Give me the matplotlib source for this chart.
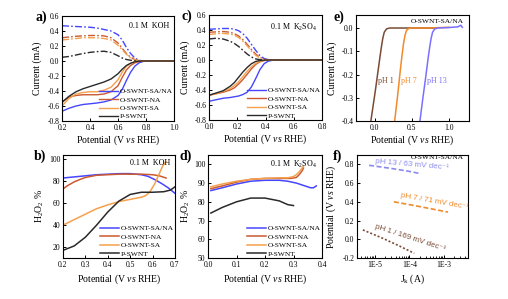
import matplotlib
matplotlib.use("Agg")
import matplotlib.pyplot as plt
import numpy as np
from matplotlib.ticker import FixedLocator, LogLocator, NullFormatter

plt.rcParams['font.family'] = ['Liberation Serif', 'DejaVu Serif']
plt.rcParams['mathtext.fontset'] = 'custom'
plt.rcParams['mathtext.rm'] = 'Liberation Serif'
plt.rcParams['mathtext.it'] = 'Liberation Serif:italic'
plt.rcParams['mathtext.bf'] = 'Liberation Serif:bold'
plt.rcParams['axes.linewidth'] = 0.8
plt.rcParams['xtick.direction'] = 'in'
plt.rcParams['ytick.direction'] = 'in'
plt.rcParams['xtick.major.size'] = 2.5
plt.rcParams['ytick.major.size'] = 2.5
plt.rcParams['xtick.minor.size'] = 1.5
plt.rcParams['xtick.major.width'] = 0.7
plt.rcParams['ytick.major.width'] = 0.7
plt.rcParams['xtick.labelsize'] = 5.5
plt.rcParams['ytick.labelsize'] = 5.5
plt.rcParams['xtick.major.pad'] = 2.2
plt.rcParams['ytick.major.pad'] = 1.8

# ---------------- data ----------------
samples = ["O-SWNT-SA/NA", "O-SWNT-NA", "O-SWNT-SA", "P-SWNT"]
colors = ["#4646ff", "#cc5a30", "#f5a04c", "#2a2a2a"]

# panel a: RRDE in 0.1 M KOH
x_a = [0.20, 0.25, 0.30, 0.35, 0.40, 0.45, 0.50, 0.55, 0.60, 0.63, 0.66, 0.69, 0.72, 0.75, 0.78, 0.82, 0.90, 1.00]
disk_a = [
    [-0.67, -0.63, -0.60, -0.58, -0.57, -0.56, -0.545, -0.52, -0.46, -0.38, -0.26, -0.15, -0.07, -0.025, -0.005, 0, 0, 0],
    [-0.55, -0.48, -0.46, -0.45, -0.45, -0.45, -0.44, -0.41, -0.33, -0.22, -0.12, -0.06, -0.025, -0.008, 0, 0, 0, 0],
    [-0.60, -0.50, -0.44, -0.42, -0.41, -0.41, -0.39, -0.35, -0.25, -0.15, -0.07, -0.03, -0.01, -0.003, 0, 0, 0, 0],
    [-0.55, -0.47, -0.41, -0.37, -0.34, -0.31, -0.28, -0.24, -0.17, -0.11, -0.06, -0.03, -0.01, -0.003, 0, 0, 0, 0],
]
ring_a = [
    [0.47, 0.465, 0.46, 0.455, 0.45, 0.44, 0.42, 0.40, 0.35, 0.28, 0.18, 0.10, 0.04, 0.01, 0, 0, 0, 0],
    [0.31, 0.32, 0.33, 0.335, 0.34, 0.34, 0.335, 0.31, 0.24, 0.17, 0.10, 0.05, 0.02, 0.005, 0, 0, 0, 0],
    [0.28, 0.29, 0.30, 0.31, 0.31, 0.31, 0.30, 0.28, 0.21, 0.15, 0.09, 0.04, 0.015, 0.004, 0, 0, 0, 0],
    [0.05, 0.06, 0.08, 0.10, 0.115, 0.125, 0.13, 0.115, 0.07, 0.04, 0.02, 0.01, 0.003, 0, 0, 0, 0, 0],
]

# panel c: RRDE in 0.1 M K2SO4
x_c = [0.00, 0.05, 0.10, 0.15, 0.18, 0.21, 0.24, 0.27, 0.30, 0.33, 0.36, 0.39, 0.42, 0.45, 0.50, 0.60, 0.70, 0.80]
disk_c = [
    [-0.55, -0.53, -0.51, -0.50, -0.49, -0.48, -0.46, -0.43, -0.36, -0.25, -0.13, -0.05, -0.015, -0.003, 0, 0, 0, 0],
    [-0.47, -0.45, -0.43, -0.40, -0.37, -0.32, -0.26, -0.19, -0.12, -0.06, -0.025, -0.008, -0.002, 0, 0, 0, 0, 0],
    [-0.47, -0.45, -0.42, -0.38, -0.34, -0.29, -0.22, -0.15, -0.09, -0.045, -0.018, -0.005, 0, 0, 0, 0, 0, 0],
    [-0.47, -0.44, -0.41, -0.35, -0.30, -0.23, -0.16, -0.10, -0.05, -0.02, -0.007, -0.002, 0, 0, 0, 0, 0, 0],
]
ring_c = [
    [0.41, 0.415, 0.42, 0.42, 0.41, 0.39, 0.35, 0.29, 0.21, 0.13, 0.06, 0.02, 0.005, 0, 0, 0, 0, 0],
    [0.37, 0.375, 0.38, 0.37, 0.35, 0.32, 0.27, 0.21, 0.14, 0.08, 0.035, 0.01, 0.002, 0, 0, 0, 0, 0],
    [0.34, 0.35, 0.355, 0.345, 0.33, 0.30, 0.25, 0.19, 0.12, 0.065, 0.025, 0.007, 0, 0, 0, 0, 0, 0],
    [0.28, 0.29, 0.28, 0.25, 0.22, 0.18, 0.13, 0.08, 0.04, 0.015, 0.004, 0, 0, 0, 0, 0, 0, 0],
]

# panel b: H2O2 selectivity in KOH
x_b = [
    [0.20, 0.25, 0.30, 0.35, 0.40, 0.45, 0.50, 0.55, 0.58, 0.61, 0.64, 0.67, 0.70],
    [0.20, 0.22, 0.25, 0.28, 0.30, 0.35, 0.40, 0.45, 0.50, 0.55, 0.60, 0.63, 0.66],
    [0.20, 0.25, 0.30, 0.35, 0.40, 0.45, 0.50, 0.55, 0.57, 0.59, 0.61, 0.63, 0.645, 0.66],
    [0.20, 0.25, 0.30, 0.35, 0.40, 0.45, 0.50, 0.55, 0.60, 0.65, 0.68, 0.70],
]
y_b = [
    [83, 84, 85, 86, 86.5, 87, 87, 86, 84.5, 81.5, 78, 74, 69],
    [73, 76, 79.5, 82, 83.5, 85.5, 86, 86.5, 86.5, 86.5, 86, 85, 83],
    [40, 45, 50, 55, 58.5, 61.5, 63.5, 65.5, 67, 71, 78, 87, 94, 98],
    [17, 21, 29, 40, 52, 62, 68, 70, 70, 70.5, 72, 75],
]

# panel d: H2O2 selectivity in K2SO4
x_d = [
    [0.01, 0.05, 0.10, 0.15, 0.20, 0.25, 0.28, 0.31, 0.34, 0.36, 0.37, 0.38],
    [0.01, 0.05, 0.10, 0.15, 0.20, 0.25, 0.29, 0.31, 0.32, 0.33, 0.335],
    [0.01, 0.05, 0.10, 0.15, 0.20, 0.25, 0.28, 0.30, 0.31, 0.32, 0.33, 0.335],
    [0.01, 0.05, 0.10, 0.15, 0.20, 0.25, 0.28, 0.30],
]
y_d = [
    [86, 87.5, 89.5, 91, 91.5, 91.5, 91, 90, 88.5, 87.5, 87.5, 88.5],
    [87, 88.5, 90.5, 92, 92.5, 92.5, 92.5, 93, 94.5, 96.5, 98],
    [88, 89.5, 91, 92, 92.5, 92.8, 92.8, 93.5, 94.5, 96, 98, 99],
    [74, 77, 80, 82, 82, 80.5, 78.5, 78],
]

# panel e: O-SWNT-SA/NA at different pH
ph_labels = ["pH 1", "pH 7", "pH 13"]
ph_colors = ["#7a4a35", "#f08a2a", "#7a70ff"]
x_e = [
    [-0.05, -0.02, 0.01, 0.04, 0.07, 0.09, 0.11, 0.13, 0.16, 0.20, 0.40, 0.60, 0.80],
    [0.27, 0.29, 0.31, 0.33, 0.35, 0.37, 0.39, 0.41, 0.43, 0.46, 0.50, 0.70, 1.00],
    [0.61, 0.63, 0.65, 0.68, 0.70, 0.72, 0.74, 0.76, 0.78, 0.81, 0.85, 1.00, 1.12, 1.16, 1.18],
]
y_e = [
    [-0.40, -0.335, -0.27, -0.20, -0.13, -0.085, -0.045, -0.018, -0.004, 0, 0, 0, 0],
    [-0.40, -0.345, -0.29, -0.23, -0.17, -0.115, -0.065, -0.03, -0.01, -0.002, 0, 0, 0.003],
    [-0.40, -0.35, -0.30, -0.23, -0.18, -0.13, -0.085, -0.045, -0.018, -0.004, 0, 0.002, 0.005, 0.012, 0.003],
]

# panel f: Tafel plots (log10 Jk in A, potential)
tafel_labels = ["pH 1 / 169 mV dec\u207b\u00b9", "pH 7 / 71 mV dec\u207b\u00b9", "pH 13 / 63 mV dec\u207b\u00b9"]
f_colors = ["#7a4a35", "#f08a2a", "#8a8aee"]
logj_f = [
    [-5.35, -4.8, -4.3, -3.86],
    [-4.45, -4.0, -3.5, -2.88],
    [-5.17, -4.5, -4.0, -3.67],
]
e_f = [
    [0.10, 0.015, -0.07, -0.15],
    [0.40, 0.37, 0.335, 0.29],
    [0.79, 0.755, 0.725, 0.70],
]

# ---------------- figure ----------------
W, H = 508, 299
fig = plt.figure(figsize=(W / 100, H / 100), dpi=100)


def add_ax(l, r, t, b):
    return fig.add_axes([l / W, (H - b) / H, (r - l) / W, (b - t) / H])


ax_a = add_ax(62, 174, 16, 121)
ax_c = add_ax(209, 322, 15, 120)
ax_e = add_ax(356, 469, 15, 121)
ax_b = add_ax(63, 175, 155, 258)
ax_d = add_ax(208, 322, 155, 258)
ax_f = add_ax(357, 468, 155, 258)

pot_label = "Potential (V $\\it{vs}$ RHE)"
lab_fs = 7
dashdot = (0, (5, 1.6, 1.2, 1.6))

# a
for i in range(4):
    ax_a.plot(x_a, ring_a[i], color=colors[i], lw=1.0, ls=dashdot)
for i in range(4):
    ax_a.plot(x_a, disk_a[i], color=colors[i], lw=1.0, label=samples[i])
ax_a.set_xlim(0.2, 1.0)
ax_a.set_ylim(-0.8, 0.6)
ax_a.set_xticks(np.arange(0.2, 1.01, 0.2))
ax_a.set_yticks(np.arange(-0.8, 0.61, 0.2))
ax_a.set_xticklabels(["0.2", "0.4", "0.6", "0.8", "1.0"])
ax_a.set_yticklabels(["-0.8", "-0.6", "-0.4", "-0.2", "0.0", "0.2", "0.4", "0.6"])
ax_a.text(0.96, 0.94, "0.1 M  KOH", transform=ax_a.transAxes, ha='right', va='top', fontsize=5.8)

# c
for i in range(4):
    ax_c.plot(x_c, ring_c[i], color=colors[i], lw=1.0, ls=dashdot)
for i in range(4):
    ax_c.plot(x_c, disk_c[i], color=colors[i], lw=1.0, label=samples[i])
ax_c.set_xlim(0.0, 0.8)
ax_c.set_ylim(-0.8, 0.6)
ax_c.set_xticks(np.arange(0.0, 0.81, 0.2))
ax_c.set_xticklabels(["0.0", "0.2", "0.4", "0.6", "0.8"])
ax_c.set_yticks(np.arange(-0.8, 0.61, 0.2))
ax_c.set_yticklabels(["-0.8", "-0.6", "-0.4", "-0.2", "0.0", "0.2", "0.4", "0.6"])
ax_c.text(0.96, 0.94, "0.1 M  K$_2$SO$_4$", transform=ax_c.transAxes, ha='right', va='top', fontsize=5.8)

# b
for i in range(4):
    ax_b.plot(x_b[i], y_b[i], color=colors[i], lw=1.1, label=samples[i])
ax_b.set_xlim(0.2, 0.7)
ax_b.set_ylim(10, 104)
ax_b.set_xticks(np.arange(0.2, 0.71, 0.1))
ax_b.set_xticklabels(["0.2", "0.3", "0.4", "0.5", "0.6", "0.7"])
ax_b.set_yticks([20, 40, 60, 80, 100])
ax_b.text(0.96, 0.96, "0.1 M  KOH", transform=ax_b.transAxes, ha='right', va='top', fontsize=5.8)

# d
for i in range(4):
    ax_d.plot(x_d[i], y_d[i], color=colors[i], lw=1.1, label=samples[i])
ax_d.set_xlim(0.0, 0.4)
ax_d.set_ylim(50, 105)
ax_d.set_xticks(np.arange(0.0, 0.41, 0.1))
ax_d.set_xticklabels(["0.0", "0.1", "0.2", "0.3", "0.4"])
ax_d.set_yticks([50, 60, 70, 80, 90, 100])
ax_d.text(0.96, 0.96, "0.1 M  K$_2$SO$_4$", transform=ax_d.transAxes, ha='right', va='top', fontsize=5.8)

# legends
for ax in (ax_a, ax_c, ax_b, ax_d):
    ax.legend(loc='lower right', frameon=False, fontsize=5.4, handlelength=2.6,
              handletextpad=0.15, labelspacing=0.28, borderaxespad=0.1, borderpad=0.1)

# e
for i in range(3):
    ax_e.plot(x_e[i], y_e[i], color=ph_colors[i], lw=1.1)
ax_e.set_xlim(-0.25, 1.27)
ax_e.set_ylim(-0.4, 0.056)
ax_e.set_xticks([0.0, 0.5, 1.0])
ax_e.set_xticklabels(["0.0", "0.5", "1.0"])
ax_e.set_yticks([-0.4, -0.3, -0.2, -0.1, 0.0])
ax_e.set_yticklabels(["-0.4", "-0.3", "-0.2", "-0.1", "0.0"])
for i, xp in enumerate([0.15, 0.46, 0.84]):
    ax_e.text(xp, -0.23, ph_labels[i], color=ph_colors[i], fontsize=5.8, ha='center', va='center')
ax_e.text(0.84, 0.03, "O-SWNT-SA/NA", fontsize=5.4, ha='center', va='center')

# f
f_styles = [(0, (1.2, 1.2)), (0, (3, 1.5)), (0, (3, 1.5))]
for i in range(3):
    ax_f.plot(10 ** np.array(logj_f[i]), e_f[i], color=f_colors[i], lw=1.2, ls=f_styles[i])
ax_f.set_xscale('log')
ax_f.set_xlim(10 ** -5.52, 10 ** -2.3)
ax_f.set_ylim(-0.2, 0.9)
ax_f.xaxis.set_major_locator(FixedLocator([1e-5, 1e-4, 1e-3]))
ax_f.set_xticklabels(["1E-5", "1E-4", "1E-3"])
ax_f.xaxis.set_minor_locator(LogLocator(base=10, subs=np.arange(2, 10)))
ax_f.xaxis.set_minor_formatter(NullFormatter())
ax_f.set_yticks([-0.2, 0.0, 0.2, 0.4, 0.6, 0.8])
ax_f.set_yticklabels(["-0.2", "0.0", "0.2", "0.4", "0.6", "0.8"])
f_text_pos = [(-3.98, 0.013, -18), (-3.26, 0.41, -10), (-3.93, 0.80, -5)]
sans = ['Liberation Sans', 'DejaVu Sans']
for i, (lx, ly, rot) in enumerate(f_text_pos):
    ax_f.text(10 ** lx, ly, tafel_labels[i], color=f_colors[i], fontsize=5.8, family=sans,
              rotation=rot, ha='center', va='center', rotation_mode='anchor')
ax_f.text(10 ** -3.2, 0.875, "O-SWNT-SA/NA", fontsize=5.4, ha='center', va='center')

# axis labels
ax_a.set_ylabel("Current (mA)", fontsize=lab_fs)
ax_c.set_ylabel("Current (mA)", fontsize=lab_fs)
ax_e.set_ylabel("Current (mA)", fontsize=lab_fs)
ax_b.set_ylabel("H$_2$O$_2$ %", fontsize=lab_fs)
ax_d.set_ylabel("H$_2$O$_2$ %", fontsize=lab_fs)
ax_f.set_ylabel(pot_label, fontsize=lab_fs)
for ax in (ax_a, ax_c, ax_e, ax_b, ax_d):
    ax.set_xlabel(pot_label, fontsize=lab_fs)
ax_f.set_xlabel("J$_\\mathrm{k}$ (A)", fontsize=lab_fs)

ax_a.yaxis.set_label_coords(-0.18, 0.5)
ax_c.yaxis.set_label_coords(-0.17, 0.5)
ax_e.yaxis.set_label_coords(-0.17, 0.5)
ax_b.yaxis.set_label_coords(-0.155, 0.5)
ax_d.yaxis.set_label_coords(-0.14, 0.5)
ax_f.yaxis.set_label_coords(-0.17, 0.5)
for ax in (ax_a, ax_c, ax_e):
    ax.xaxis.set_label_coords(0.5, -0.115)
for ax in (ax_b, ax_d, ax_f):
    ax.xaxis.set_label_coords(0.5, -0.145)

# panel letters
for ax, lab, px, py in [(ax_a, "a)", 35, 17), (ax_c, "c)", 181, 16), (ax_e, "e)", 333, 17),
                        (ax_b, "b)", 34, 156), (ax_d, "d)", 180, 156), (ax_f, "f)", 333, 156)]:
    fig.text(px / W, 1 - py / H, lab, fontsize=10, fontweight='bold', ha='left', va='center')

fig.savefig("out.png", dpi=100)
